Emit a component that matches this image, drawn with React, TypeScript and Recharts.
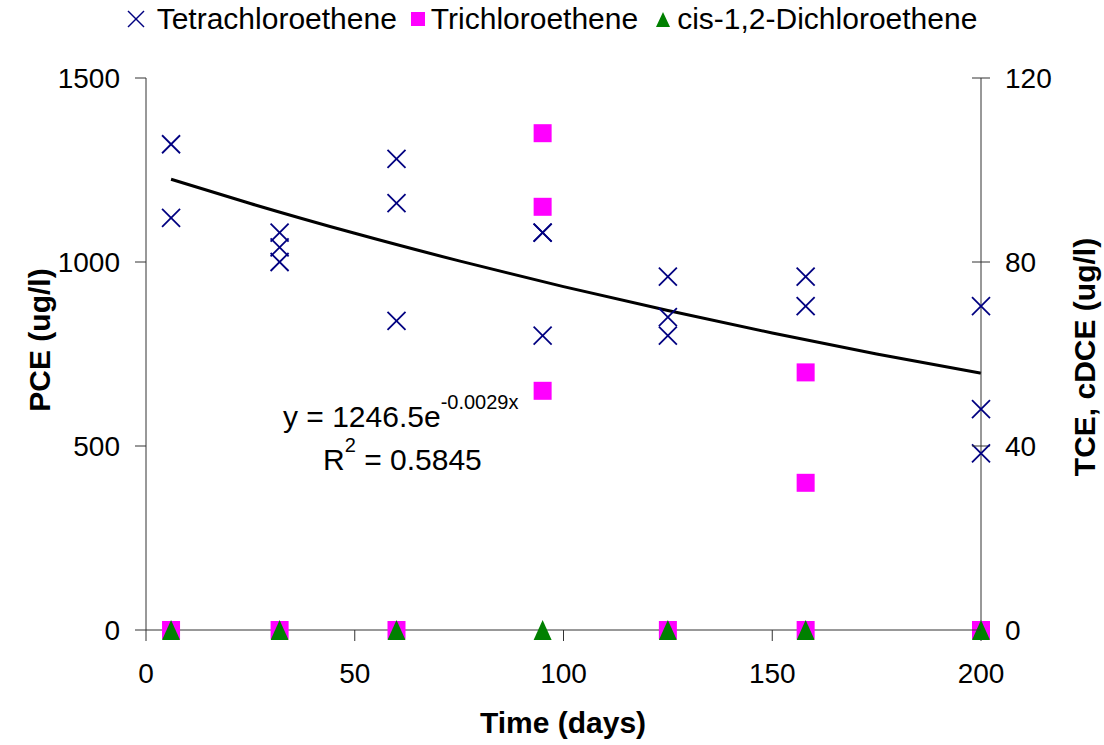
import {
  ComposedChart,
  Scatter,
  Line,
  XAxis,
  YAxis,
  Customized,
} from 'recharts'

// sampling days
const pceDays = [6, 6, 32, 32, 32, 60, 60, 60, 95, 95, 95, 125, 125, 125, 158, 158, 200, 200, 200]
const pceValues = [1320, 1120, 1080, 1040, 1000, 1280, 1160, 840, 1080, 1080, 800, 960, 850, 800, 960, 880, 880, 600, 480]

const tceDays = [6, 32, 60, 95, 95, 95, 125, 158, 158, 158, 200]
const tceValues = [0, 0, 0, 108, 92, 52, 0, 56, 32, 0, 0]

const dceDays = [6, 32, 60, 95, 125, 158, 200]
const dceValues = [0, 0, 0, 0, 0, 0, 0]

// exponential trendline
const trendDays = [6, 25, 50, 75, 100, 125, 150, 175, 200]
const trendValues = [1225, 1159, 1078, 1003, 933, 868, 807, 750, 698]

const xTicks = [0, 50, 100, 150, 200]
const leftTicks = [0, 500, 1000, 1500]
const rightTicks = [0, 40, 80, 120]

const FONT = '"Liberation Sans", Arial, sans-serif'
const NAVY = '#000080'
const MAGENTA = '#FF00FF'
const GREEN = '#008000'
const AXIS = '#333333'

const zip = (xs: number[], ys: number[]) => xs.map((x, i) => ({ x, y: ys[i] }))

const pceData = zip(pceDays, pceValues)
const tceData = zip(tceDays, tceValues)
const dceData = zip(dceDays, dceValues)
const trendData = zip(trendDays, trendValues)

function XMark({ cx, cy }: any) {
  const h = 9
  return (
    <g stroke={NAVY} strokeWidth={1.8}>
      <line x1={cx - h} y1={cy - h} x2={cx + h} y2={cy + h} />
      <line x1={cx - h} y1={cy + h} x2={cx + h} y2={cy - h} />
    </g>
  )
}

function SquareMark({ cx, cy }: any) {
  return <rect x={cx - 9} y={cy - 9} width={18} height={18} fill={MAGENTA} />
}

function TriangleMark({ cx, cy }: any) {
  return (
    <polygon
      points={`${cx},${cy - 10} ${cx + 9},${cy + 10} ${cx - 9},${cy + 10}`}
      fill={GREEN}
    />
  )
}

function RightTick({ x, y, payload }: any) {
  const ax = x - 9 - 15
  return (
    <g>
      <line x1={ax - 9} y1={y} x2={ax} y2={y} stroke={AXIS} />
      <text x={x} y={y} dy="0.355em" textAnchor="start" fontSize={28} fill="#000" fontFamily={FONT}>
        {payload.value}
      </text>
    </g>
  )
}

function LegendIcon({ kind }: { kind: string }) {
  if (kind === 'x') {
    return (
      <svg width={18} height={18}>
        <g stroke={NAVY} strokeWidth={1.5}>
          <line x1={1} y1={1} x2={17} y2={17} />
          <line x1={1} y1={17} x2={17} y2={1} />
        </g>
      </svg>
    )
  }
  if (kind === 'sq') {
    return (
      <svg width={18} height={18}>
        <rect x={2} y={2} width={14} height={14} fill={MAGENTA} />
      </svg>
    )
  }
  return (
    <svg width={18} height={18}>
      <polygon points="9,2 16,17 2,17" fill={GREEN} />
    </svg>
  )
}

const legendItems = [
  { kind: 'x', label: 'Tetrachloroethene', gap: 12, after: 12 },
  { kind: 'sq', label: 'Trichloroethene', gap: 4, after: 16 },
  { kind: 'tri', label: 'cis-1,2-Dichloroethene', gap: 5, after: 0 },
]

function ChartLegend() {
  return (
    <div
      style={{
        position: 'absolute',
        top: 2,
        left: 0,
        width: 1104,
        display: 'flex',
        justifyContent: 'center',
        alignItems: 'center',
        fontFamily: FONT,
        fontSize: 30,
        color: '#000',
      }}
    >
      {legendItems.map((it) => (
        <div key={it.label} style={{ display: 'flex', alignItems: 'center', marginRight: it.after }}>
          <span style={{ marginRight: it.gap, display: 'flex' }}>
            <LegendIcon kind={it.kind} />
          </span>
          <span>{it.label}</span>
        </div>
      ))}
    </div>
  )
}

function Annotations() {
  return (
    <g fontFamily={FONT} fill="#000">
      <text x={283} y={427} fontSize={30}>
        y = 1246.5e
        <tspan dy={-18} fontSize={20}>-0.0029x</tspan>
      </text>
      <text x={323} y={470} fontSize={30}>
        R<tspan dy={-18} fontSize={20}>2</tspan>
        <tspan dy={18} fontSize={30}> = 0.5845</tspan>
      </text>
      <text
        transform="translate(50,340) rotate(-90)"
        textAnchor="middle"
        fontSize={30}
        fontWeight="bold"
      >
        PCE (ug/l)
      </text>
      <text
        transform="translate(1095,357) rotate(-90)"
        textAnchor="middle"
        fontSize={30}
        fontWeight="bold"
      >
        TCE, cDCE (ug/l)
      </text>
      <text x={563} y={733} textAnchor="middle" fontSize={30} fontWeight="bold">
        Time (days)
      </text>
    </g>
  )
}

export default function App() {
  const tickStyle = { fill: '#000', fontSize: 28, fontFamily: FONT }
  return (
    <div style={{ position: 'absolute', left: 0, top: 0, width: 1104, height: 745, background: '#fff' }}>
      <ComposedChart
        width={1104}
        height={745}
        margin={{ top: 78, right: 0, bottom: 0, left: 0 }}
      >
        <XAxis
          type="number"
          dataKey="x"
          domain={[0, 200]}
          ticks={xTicks}
          height={115}
          tickSize={11}
          tickMargin={22}
          tick={tickStyle}
          axisLine={{ stroke: AXIS }}
          tickLine={{ stroke: AXIS }}
        />
        <YAxis
          yAxisId="left"
          type="number"
          dataKey="y"
          domain={[0, 1500]}
          ticks={leftTicks}
          width={146}
          tickSize={11}
          tickMargin={15}
          tick={tickStyle}
          axisLine={{ stroke: AXIS }}
          tickLine={{ stroke: AXIS }}
        />
        <YAxis
          yAxisId="right"
          orientation="right"
          type="number"
          dataKey="y"
          domain={[0, 120]}
          ticks={rightTicks}
          width={123}
          tickSize={9}
          tickMargin={15}
          tick={<RightTick />}
          axisLine={{ stroke: AXIS }}
          tickLine={{ stroke: AXIS }}
        />
        <Scatter
          name="Tetrachloroethene"
          data={pceData}
          yAxisId="left"
          shape={<XMark />}
          isAnimationActive={false}
        />
        <Scatter
          name="Trichloroethene"
          data={tceData}
          yAxisId="right"
          shape={<SquareMark />}
          isAnimationActive={false}
        />
        <Scatter
          name="cis-1,2-Dichloroethene"
          data={dceData}
          yAxisId="right"
          shape={<TriangleMark />}
          isAnimationActive={false}
        />
        <Line
          data={trendData}
          yAxisId="left"
          dataKey="y"
          type="monotone"
          stroke="#000"
          strokeWidth={3}
          dot={false}
          legendType="none"
          isAnimationActive={false}
        />
        <Customized component={Annotations} />
      </ComposedChart>
      <ChartLegend />
    </div>
  )
}
